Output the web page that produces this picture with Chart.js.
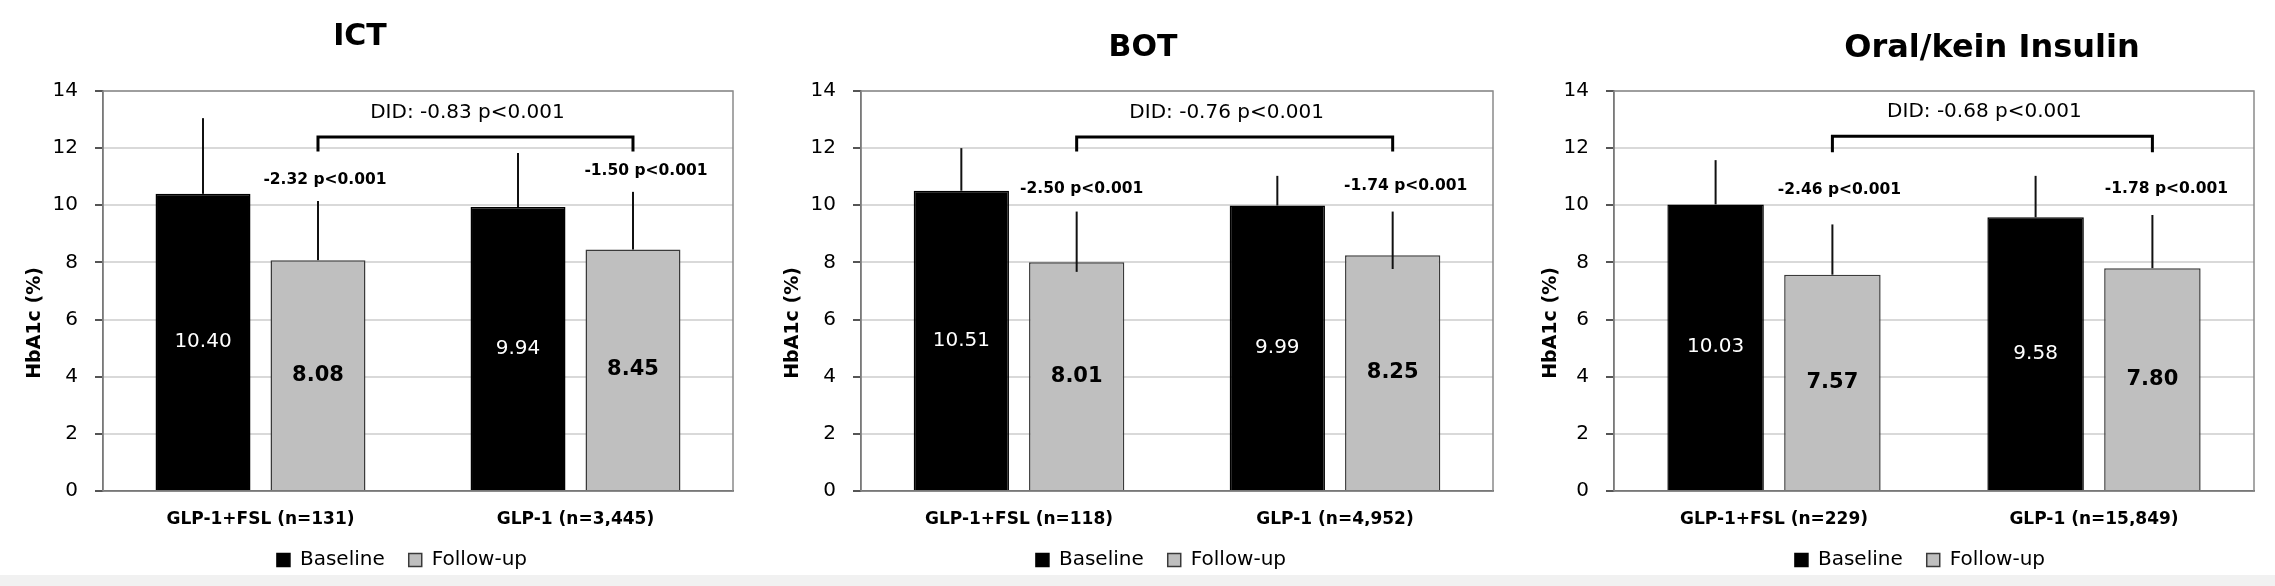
<!DOCTYPE html>
<html>
<head>
<meta charset="utf-8">
<script src="https://cdn.jsdelivr.net/npm/chart.js@4.4.1/dist/chart.umd.min.js"></script>
<style>
  html, body { margin: 0; padding: 0; background: #fff; }
  #wrap { position: relative; width: 2275px; height: 586px; overflow: hidden; }
  .panel { position: absolute; top: 0; width: 758px; height: 586px; }
  #strip { position: absolute; left: 0; top: 575px; width: 2275px; height: 11px; background: #f1f1f1; }
</style>
</head>
<body>
<div id="wrap">
  <div class="panel" style="left:0px"><canvas id="c0" width="758" height="586"></canvas></div>
  <div class="panel" style="left:758px"><canvas id="c1" width="758" height="586"></canvas></div>
  <div class="panel" style="left:1516px"><canvas id="c2" width="758" height="586"></canvas></div>
  <div id="strip"></div>
</div>
<script>
// ---- data ----
const seriesNames = ['Baseline', 'Follow-up'];
const yTicks = [0, 2, 4, 6, 8, 10, 12, 14];

const ictLabels = ['GLP-1+FSL (n=131)', 'GLP-1 (n=3,445)'];
const ictBaseline = [10.40, 9.94];
const ictFollowUp = [8.08, 8.45];
const ictBaselineErrTop = [13.05, 11.83];
const ictFollowUpErrTop = [10.15, 10.47];
const ictFollowUpErrLow = [8.08, 8.45];
const ictChange = ['-2.32 p<0.001', '-1.50 p<0.001'];
const ictDid = 'DID: -0.83 p<0.001';

const botLabels = ['GLP-1+FSL (n=118)', 'GLP-1 (n=4,952)'];
const botBaseline = [10.51, 9.99];
const botFollowUp = [8.01, 8.25];
const botBaselineErrTop = [12.0, 11.03];
const botFollowUpErrTop = [9.78, 9.78];
const botFollowUpErrLow = [7.67, 7.77];
const botChange = ['-2.50 p<0.001', '-1.74 p<0.001'];
const botDid = 'DID: -0.76 p<0.001';

const oralLabels = ['GLP-1+FSL (n=229)', 'GLP-1 (n=15,849)'];
const oralBaseline = [10.03, 9.58];
const oralFollowUp = [7.57, 7.80];
const oralBaselineErrTop = [11.58, 11.03];
const oralFollowUpErrTop = [9.33, 9.66];
const oralFollowUpErrLow = [7.57, 7.80];
const oralChange = ['-2.46 p<0.001', '-1.78 p<0.001'];
const oralDid = 'DID: -0.68 p<0.001';

const FONT = "'DejaVu Sans', sans-serif";

// draws frame, error bars, bar values, bracket and notes
const overlay = {
  id: 'overlay',
  afterLayout(chart, args, o) {
    const lg = chart.legend;
    lg.left += o.legendShift;
    lg.right += o.legendShift;
  },
  beforeDatasetsDraw(chart) {
    const a = chart.chartArea, ctx = chart.ctx;
    ctx.save();
    ctx.strokeStyle = '#8a8a8a';
    ctx.lineWidth = 1.5;
    ctx.strokeRect(a.left, a.top, a.right - a.left, a.bottom - a.top);
    ctx.restore();
  },
  afterDatasetsDraw(chart, args, o) {
    const ctx = chart.ctx, y = chart.scales.y;
    ctx.save();
    chart.data.datasets.forEach((ds, di) => {
      chart.getDatasetMeta(di).data.forEach((bar, i) => {
        ctx.strokeStyle = '#111';
        ctx.lineWidth = 2;
        ctx.beginPath();
        ctx.moveTo(bar.x, y.getPixelForValue(ds.errLow[i]));
        ctx.lineTo(bar.x, y.getPixelForValue(ds.errTop[i]));
        ctx.stroke();
        ctx.textAlign = 'center';
        ctx.textBaseline = 'middle';
        ctx.fillStyle = di === 0 ? '#fff' : '#000';
        ctx.font = (di === 0 ? '20px ' : 'bold 21px ') + FONT;
        ctx.fillText(ds.data[i].toFixed(2), bar.x, (bar.y + bar.base) / 2);
      });
    });
    // change notes above follow-up bars
    const fu = chart.getDatasetMeta(1).data;
    ctx.fillStyle = '#000';
    ctx.font = 'bold 15.5px ' + FONT;
    o.changes.forEach((t, i) => {
      ctx.fillText(t, fu[i].x + o.changeDx[i], y.getPixelForValue(o.changeY[i]));
    });
    // DID bracket
    const by = y.getPixelForValue(o.bracketY), ly = y.getPixelForValue(o.bracketLegY);
    ctx.strokeStyle = '#000';
    ctx.lineWidth = 3;
    ctx.beginPath();
    ctx.moveTo(fu[0].x, ly);
    ctx.lineTo(fu[0].x, by);
    ctx.lineTo(fu[1].x, by);
    ctx.lineTo(fu[1].x, ly);
    ctx.stroke();
    ctx.font = '20px ' + FONT;
    ctx.fillText(o.did, (fu[0].x + fu[1].x) / 2 - 8, y.getPixelForValue(o.didY));
    // title
    ctx.font = 'bold ' + o.titleSize + 'px ' + FONT;
    ctx.fillText(o.title, o.titleX, o.titleY);
    // y axis title
    ctx.translate(35, 323);
    ctx.rotate(-Math.PI / 2);
    ctx.font = 'bold 19px ' + FONT;
    ctx.fillText('HbA1c (%)', 0, 0);
    ctx.restore();
  }
};

function makePanel(id, labels, base, follow, baseTop, followTop, followLow, note) {
  new Chart(document.getElementById(id), {
    type: 'bar',
    data: {
      labels: labels,
      datasets: [{
        label: seriesNames[0],
        data: base,
        errTop: baseTop,
        errLow: base,
        backgroundColor: '#000',
        borderColor: '#000',
        borderWidth: 1.5,
        categoryPercentage: 0.73,
        barPercentage: 0.826
      }, {
        label: seriesNames[1],
        data: follow,
        errTop: followTop,
        errLow: followLow,
        backgroundColor: '#bfbfbf',
        borderColor: '#3a3a3a',
        borderWidth: 1.5,
        categoryPercentage: 0.73,
        barPercentage: 0.826
      }]
    },
    options: {
      responsive: false,
      animation: false,
      layout: { padding: { left: 0, right: note.padRight, top: 91, bottom: 6 } },
      scales: {
        y: {
          min: 0, max: 14,
          afterBuildTicks: (s) => { s.ticks = yTicks.map(v => ({ value: v })); },
          afterFit: (s) => { s.width = note.yWidth; },
          ticks: { color: '#000', padding: 17, font: { family: FONT, size: 20 } },
          grid: { color: '#d9d9d9', lineWidth: 2, tickLength: 8, tickColor: '#555' },
          border: { color: '#444', width: 1.5 }
        },
        x: {
          afterFit: (s) => { s.height = 35; },
          ticks: { color: '#000', padding: 18, font: { family: FONT, size: 17, weight: 'bold' } },
          grid: { display: false, drawTicks: false },
          border: { color: '#444', width: 1.5 }
        }
      },
      plugins: {
        tooltip: { enabled: false },
        legend: {
          position: 'bottom',
          fullSize: false,
          labels: {
            boxWidth: 13, boxHeight: 13, padding: 24, color: '#000',
            font: { family: FONT, size: 20 }
          }
        },
        overlay: note
      }
    },
    plugins: [overlay]
  });
}

makePanel('c0', ictLabels, ictBaseline, ictFollowUp, ictBaselineErrTop, ictFollowUpErrTop, ictFollowUpErrLow, {
  title: 'ICT', titleSize: 30, titleX: 360, titleY: 37, changes: ictChange, changeY: [10.9, 11.2], changeDx: [7, 13],
  did: ictDid, didY: 13.23, bracketY: 12.39, bracketLegY: 11.88, padRight: 25, yWidth: 103, legendShift: -16
});
makePanel('c1', botLabels, botBaseline, botFollowUp, botBaselineErrTop, botFollowUpErrTop, botFollowUpErrLow, {
  title: 'BOT', titleSize: 30, titleX: 385, titleY: 48, changes: botChange, changeY: [10.57, 10.68], changeDx: [5, 13],
  did: botDid, didY: 13.23, bracketY: 12.39, bracketLegY: 11.88, padRight: 23, yWidth: 103, legendShift: -16
});
makePanel('c2', oralLabels, oralBaseline, oralFollowUp, oralBaselineErrTop, oralFollowUpErrTop, oralFollowUpErrLow, {
  title: 'Oral/kein Insulin', titleSize: 32, titleX: 476, titleY: 49, changes: oralChange, changeY: [10.54, 10.57], changeDx: [7, 14],
  did: oralDid, didY: 13.27, bracketY: 12.42, bracketLegY: 11.86, padRight: 20, yWidth: 98, legendShift: -14
});
</script>
</body>
</html>
